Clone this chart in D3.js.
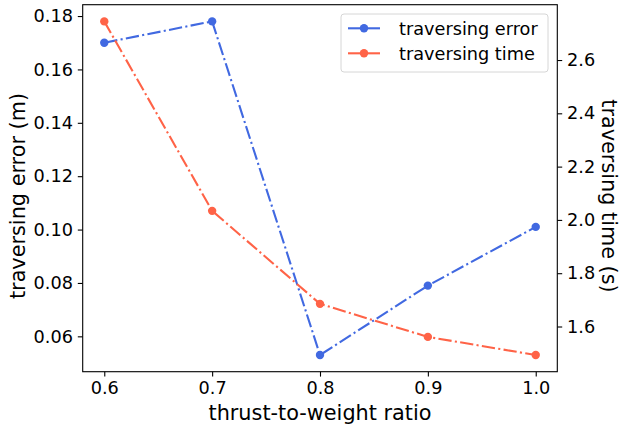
<!DOCTYPE html>
<html>
<head>
<meta charset="utf-8">
<script src="https://cdn.jsdelivr.net/npm/d3@7"></script>
<style>
  body { margin: 0; background: #fff; }
  svg text { font-family: "DejaVu Sans", sans-serif; fill: #000; }
</style>
</head>
<body>
<div id="chart"></div>
<script>
// data
var ratios = [0.6, 0.7, 0.8, 0.9, 1.0];
var errorValues = [0.170, 0.178, 0.053, 0.079, 0.101];
var timeValues = [2.745, 2.034, 1.685, 1.561, 1.493];
var xTicks = [0.6, 0.7, 0.8, 0.9, 1.0];
var errorTicks = [0.06, 0.08, 0.10, 0.12, 0.14, 0.16, 0.18];
var timeTicks = [1.6, 1.8, 2.0, 2.2, 2.4, 2.6];

var svgWidth = 621;
var svgHeight = 424;
var margin = { top: 4.7, right: 63.7, bottom: 52.3, left: 82.7 };
var width = svgWidth - margin.left - margin.right;
var height = svgHeight - margin.top - margin.bottom;

var blue = "#4169E1";
var red = "#FF6347";
var dashDot = "13.3,3.3,2.1,3.3";
var tickFont = "17.7px";
var labelFont = "20.8px";

var svg = d3.select("#chart").append("svg")
  .attr("width", svgWidth)
  .attr("height", svgHeight);

var chartGroup = svg.append("g")
  .attr("transform", `translate(${margin.left}, ${margin.top})`);

// matplotlib-like 5% margins
function padded(values) {
  var lo = d3.min(values), hi = d3.max(values);
  var m = (hi - lo) * 0.05;
  return [lo - m, hi + m];
}

var x = d3.scaleLinear().domain(padded(ratios)).range([0, width]);
var yErr = d3.scaleLinear().domain(padded(errorValues)).range([height, 0]);
var yTime = d3.scaleLinear().domain(padded(timeValues)).range([height, 0]);

// axes
function styleAxis(g) {
  g.attr("font-family", null).attr("font-size", null);
  g.select(".domain").remove();
  g.selectAll(".tick line").attr("stroke", "#000").attr("stroke-width", 1.1);
  g.selectAll(".tick text").style("font-size", tickFont);
}

chartGroup.append("g")
  .attr("transform", `translate(0,${height})`)
  .call(d3.axisBottom(x).tickValues(xTicks).tickFormat(d3.format(".1f")).tickSize(4.9).tickPadding(4.9))
  .call(styleAxis);

chartGroup.append("g")
  .call(d3.axisLeft(yErr).tickValues(errorTicks).tickFormat(d3.format(".2f")).tickSize(4.9).tickPadding(4.9))
  .call(styleAxis);

chartGroup.append("g")
  .attr("transform", `translate(${width},0)`)
  .call(d3.axisRight(yTime).tickValues(timeTicks).tickFormat(d3.format(".1f")).tickSize(4.9).tickPadding(4.9))
  .call(styleAxis);

// frame
chartGroup.append("rect")
  .attr("width", width)
  .attr("height", height)
  .attr("fill", "none")
  .attr("stroke", "#000")
  .attr("stroke-width", 1.1);

// lines
var series = [
  { name: "traversing error", values: errorValues, y: yErr, color: blue },
  { name: "traversing time", values: timeValues, y: yTime, color: red }
];

series.forEach(function(s) {
  var line = d3.line()
    .x((d, i) => x(ratios[i]))
    .y(d => s.y(d));

  chartGroup.append("path")
    .datum(s.values)
    .attr("fill", "none")
    .attr("stroke", s.color)
    .attr("stroke-width", 2.1)
    .attr("stroke-dasharray", dashDot)
    .attr("d", line);

  chartGroup.selectAll(null)
    .data(s.values)
    .enter()
    .append("circle")
    .attr("cx", (d, i) => x(ratios[i]))
    .attr("cy", d => s.y(d))
    .attr("r", 4.2)
    .attr("fill", s.color);
});

// axis labels
svg.append("text")
  .attr("x", margin.left + width / 2)
  .attr("y", 420)
  .attr("text-anchor", "middle")
  .style("font-size", labelFont)
  .text("thrust-to-weight ratio");

svg.append("text")
  .attr("transform", "translate(25, 196) rotate(-90)")
  .attr("text-anchor", "middle")
  .style("font-size", labelFont)
  .text("traversing error (m)");

svg.append("text")
  .attr("transform", "translate(602, 196) rotate(90)")
  .attr("text-anchor", "middle")
  .style("font-size", labelFont)
  .text("traversing time (s)");

// legend
var legend = svg.append("g").attr("transform", "translate(341,14)");
legend.append("rect")
  .attr("width", 207)
  .attr("height", 58)
  .attr("rx", 3)
  .attr("fill", "#fff")
  .attr("fill-opacity", 0.8)
  .attr("stroke", "#d6d6d6")
  .attr("stroke-width", 1);

series.forEach(function(s, i) {
  var row = legend.append("g").attr("transform", `translate(0, ${14.3 + i * 25})`);
  row.append("line")
    .attr("x1", 7).attr("x2", 39)
    .attr("stroke", s.color)
    .attr("stroke-width", 2.1);
  row.append("circle")
    .attr("cx", 23)
    .attr("r", 4.2)
    .attr("fill", s.color);
  row.append("text")
    .attr("x", 58)
    .attr("dy", "0.35em")
    .style("font-size", tickFont)
    .text(s.name);
});
</script>
</body>
</html>
